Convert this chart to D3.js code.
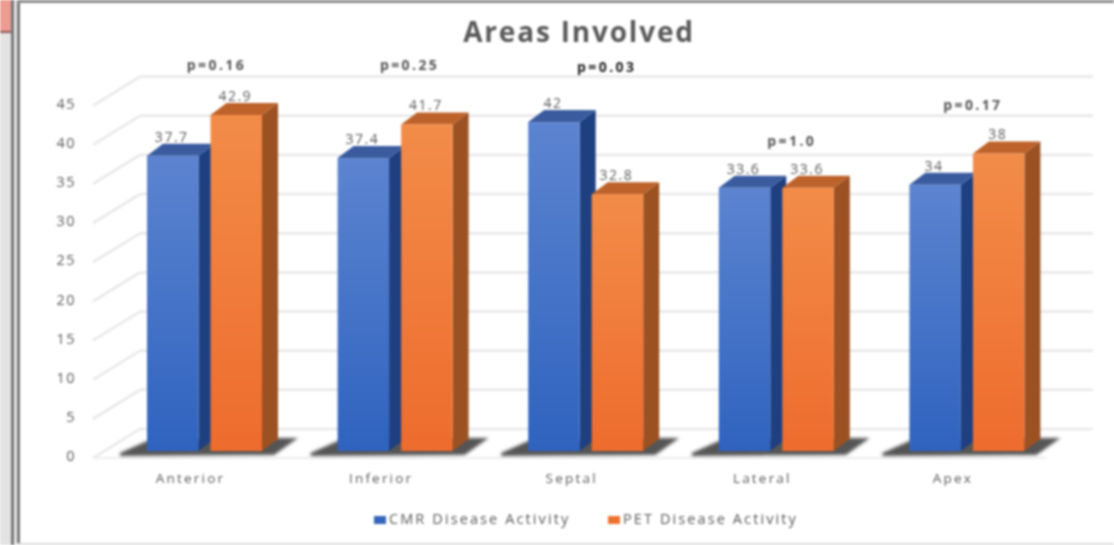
<!DOCTYPE html>
<html>
<head>
<meta charset="utf-8">
<script src="https://cdnjs.cloudflare.com/ajax/libs/d3/7.8.5/d3.min.js"></script>
<style>
html,body{margin:0;padding:0;background:#fff;overflow:hidden}
svg{display:block;filter:blur(1.15px)}
text{font-family:"Open Sans","Liberation Sans",sans-serif}
</style>
</head>
<body>
<svg id="chart" width="1114" height="545"></svg>
<script>
const categories = ["Anterior", "Inferior", "Septal", "Lateral", "Apex"];
const seriesNames = ["CMR Disease Activity", "PET Disease Activity"];
const cmrValues = [37.7, 37.4, 42, 33.6, 34];
const petValues = [42.9, 41.7, 32.8, 33.6, 38];
const pLabels = ["p=0.16", "p=0.25", "p=0.03", "p=1.0", "p=0.17"];
const yTicks = [0, 5, 10, 15, 20, 25, 30, 35, 40, 45];

// Hand placement of the p-value annotations: height on the value axis,
// and horizontal nudge from the cluster centre
const pLabelLevels = [49.2, 49.2, 48.9, 39.4, 44.1];
const pLabelNudges = [12, 14.5, 21, 15.5, 6];

const svg = d3.select("#chart");
const TEXT = "#5a5a5a";
const depth = {x: 16, y: 12};
const wall = {x: 47, y: 29};

const y = d3.scaleLinear().domain([0, 45]).range([451, 98.6]);
const x0 = d3.scaleBand().domain(categories).range([109.2, 1062.2]);
const x1 = d3.scaleBand().domain(seriesNames)
  .range([x0.bandwidth() / 2 - 57.5, x0.bandwidth() / 2 + 57.5]).paddingInner(0.19);
const barW = x1.bandwidth();

const defs = svg.append("defs");
function fade(id, top, bottom) {
  const g = defs.append("linearGradient").attr("id", id)
    .attr("x1", 0).attr("x2", 0).attr("y1", 0).attr("y2", 1);
  g.append("stop").attr("offset", 0).attr("stop-color", top);
  g.append("stop").attr("offset", 1).attr("stop-color", bottom);
}
fade("frontBlue", "#5c84d0", "#2f63bf");
fade("frontOrange", "#f38c49", "#ee6c2d");
const shade = defs.append("filter").attr("id", "soft")
  .attr("x", "-20%").attr("y", "-40%").attr("width", "140%").attr("height", "180%");
shade.append("feGaussianBlur").attr("stdDeviation", 1.5);

// Window surround
svg.append("rect").attr("x", 0).attr("y", 0).attr("width", 11).attr("height", 545).attr("fill", "#e3e3e3");
svg.append("rect").attr("x", 0).attr("y", 0).attr("width", 12).attr("height", 32).attr("fill", "#ec9c92");
svg.append("rect").attr("x", 0).attr("y", 31).attr("width", 12).attr("height", 2).attr("fill", "#8a5a55");
svg.append("rect").attr("x", 11).attr("y", 0).attr("width", 3).attr("height", 545).attr("fill", "#777");
svg.append("rect").attr("x", 14).attr("y", 0).attr("width", 3).attr("height", 545).attr("fill", "#e8e8e8");
svg.append("rect").attr("x", 17).attr("y", 0).attr("width", 3).attr("height", 545).attr("fill", "#777");
svg.append("rect").attr("x", 17).attr("y", 0).attr("width", 1097).attr("height", 3).attr("fill", "#8c8c8c");
svg.append("rect").attr("x", 17).attr("y", 543).attr("width", 1097).attr("height", 2).attr("fill", "#dcdcdc");

// Back wall gridlines and the diagonal side wall
const grid = svg.append("g").attr("stroke", "#e8e8e8").attr("stroke-width", 2.5).attr("fill", "none");
grid.selectAll("line.back").data(yTicks).join("line").attr("class", "back")
  .attr("x1", 93 + wall.x).attr("x2", 1093)
  .attr("y1", d => y(d) - 22).attr("y2", d => y(d) - 22);
grid.selectAll("line.side").data(yTicks).join("line").attr("class", "side")
  .attr("x1", 93).attr("x2", 93 + wall.x)
  .attr("y1", d => y(d) + 7).attr("y2", d => y(d) + 7 - wall.y);
grid.append("line").attr("x1", 93).attr("x2", 1046).attr("y1", y(0) + 7).attr("y2", y(0) + 7).attr("stroke", "#f0f0f0");

// Value axis
const yAxis = svg.append("g").attr("transform", "translate(76,5)")
  .call(d3.axisLeft(y).tickValues(yTicks).tickSize(0).tickPadding(0));
yAxis.select(".domain").remove();
yAxis.selectAll("text").attr("fill", TEXT).attr("font-size", 14.5).attr("letter-spacing", 1.5);

// Category axis
const xAxis = svg.append("g").attr("transform", "translate(-14,473)")
  .call(d3.axisBottom(x0).tickSize(0).tickPadding(0));
xAxis.select(".domain").remove();
xAxis.selectAll("text").attr("fill", TEXT).attr("font-size", 13.5).attr("letter-spacing", 2.2);

// Floor shadow under each cluster
const groups = svg.selectAll("g.cluster").data(categories).join("g")
  .attr("class", "cluster").attr("transform", d => `translate(${x0(d)},0)`);
const firstBar = x1(seriesNames[0]);
const lastBarEnd = x1(seriesNames[1]) + barW;
groups.append("path")
  .attr("d", `M${firstBar - 27},${y(0) + 2} L${firstBar},${y(0) - 10} L${lastBarEnd + 16},${y(0) - 13}
    L${lastBarEnd + 36},${y(0) - 13} L${lastBarEnd + 12},${y(0) + 4} L${firstBar - 27},${y(0) + 5} Z`)
  .attr("fill", "#555").attr("filter", "url(#soft)");

// 3-D bars: side, cap, front
const styles = [
  {front: "url(#frontBlue)", side: "#1e3f80", cap: "#3a5c9f", values: cmrValues},
  {front: "url(#frontOrange)", side: "#9c5122", cap: "#bd622a", values: petValues}
];
styles.forEach((st, s) => {
  const bx = x1(seriesNames[s]);
  const b = groups.append("g");
  b.append("path").attr("fill", st.side).attr("d", (d, i) => {
    const t = y(st.values[i]), r = bx + barW;
    return `M${r},${t} L${r + depth.x},${t - depth.y} L${r + depth.x},${y(0) - depth.y} L${r},${y(0)} Z`;
  });
  b.append("path").attr("fill", st.cap).attr("d", (d, i) => {
    const t = y(st.values[i]), r = bx + barW;
    return `M${bx},${t} L${bx + depth.x},${t - depth.y} L${r + depth.x},${t - depth.y} L${r},${t} Z`;
  });
  b.append("rect").attr("fill", st.front).attr("x", bx).attr("width", barW)
    .attr("y", (d, i) => y(st.values[i])).attr("height", (d, i) => y(0) - y(st.values[i]));
  b.append("text").attr("fill", TEXT).attr("font-size", 14).attr("letter-spacing", 1.5).attr("text-anchor", "middle")
    .attr("x", bx + barW / 2 - 1).attr("y", (d, i) => y(st.values[i]) - 14)
    .text((d, i) => st.values[i]);
});

// Significance annotations
groups.append("text").attr("text-anchor", "middle").attr("font-size", 14).attr("font-weight", 700)
  .attr("letter-spacing", 2.4)
  .attr("x", (d, i) => x0.bandwidth() / 2 + pLabelNudges[i])
  .attr("y", (d, i) => y(pLabelLevels[i]) + 4)
  .attr("fill", (d, i) => i === 2 ? "#222" : "#555")
  .text((d, i) => pLabels[i]);

// Title
svg.append("text").attr("x", 579).attr("y", 42).attr("text-anchor", "middle")
  .attr("font-size", 28).attr("font-weight", 700).attr("letter-spacing", 1.8).attr("fill", "#5a5a5a").text("Areas Involved");

// Legend
const legendX = d3.scaleOrdinal().domain(seriesNames).range([374, 608]);
const legendColor = d3.scaleOrdinal().domain(seriesNames).range(["#3565bd", "#ed7231"]);
const legend = svg.selectAll("g.legend").data(seriesNames).join("g")
  .attr("class", "legend").attr("transform", d => `translate(${legendX(d)},516)`);
legend.append("rect").attr("width", 12).attr("height", 8).attr("fill", d => legendColor(d));
legend.append("text").attr("x", 15).attr("y", 8).attr("font-size", 14.5).attr("letter-spacing", 2.1)
  .attr("fill", TEXT).text(d => d);
</script>
</body>
</html>
